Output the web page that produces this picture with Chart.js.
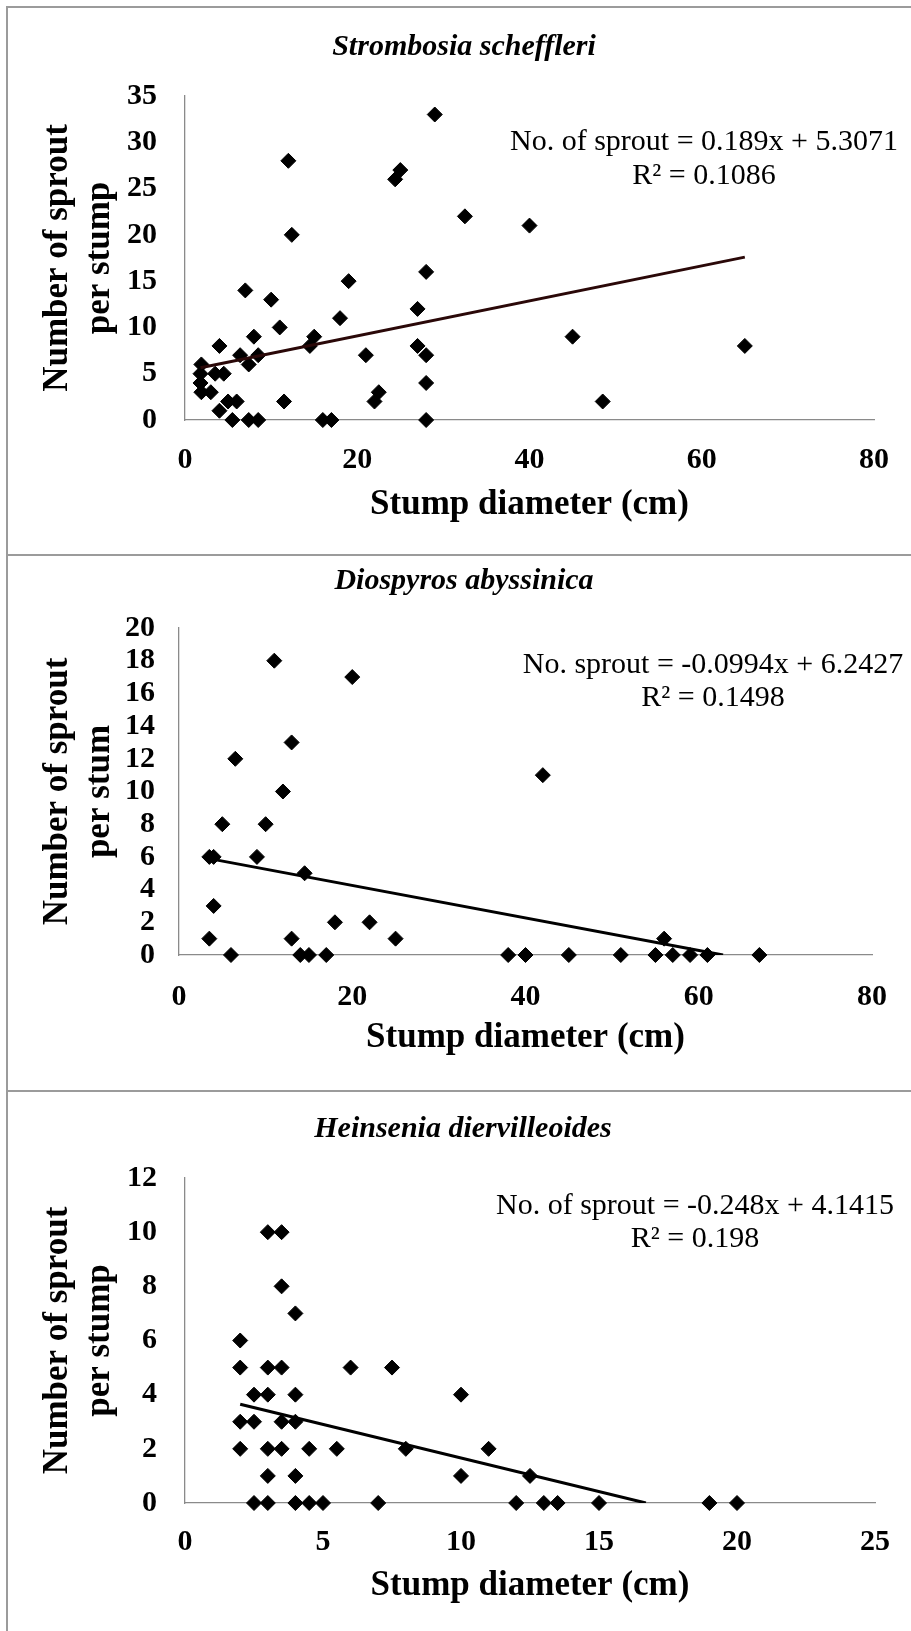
<!DOCTYPE html>
<html>
<head>
<meta charset="utf-8">
<script src="https://cdn.jsdelivr.net/npm/chart.js@4.4.1/dist/chart.umd.min.js"></script>
<style>
html,body{margin:0;padding:0;background:#fff;}
body{width:911px;height:1631px;position:relative;overflow:hidden;}
.frame{position:absolute;left:6px;top:6px;width:1000px;height:2000px;border:2px solid #9b9b9b;box-sizing:border-box;}
.sep{position:absolute;left:6px;width:1000px;height:2px;background:#9b9b9b;}
canvas{position:absolute;left:0;}
</style>
</head>
<body>
<div class="frame"></div>
<div class="sep" style="top:554px"></div>
<div class="sep" style="top:1090px"></div>
<canvas id="c1" width="911" height="555" style="top:0px"></canvas>
<canvas id="c2" width="911" height="536" style="top:555px"></canvas>
<canvas id="c3" width="911" height="540" style="top:1091px"></canvas>
<script>
// ---------- Data ----------
// Panel 1: Strombosia scheffleri
const strombosiaDiameter = [29, 12, 25, 24.4, 32.5, 40, 12.4, 28, 19, 7, 10, 27, 18, 11, 8, 15, 14.5, 4, 27, 21, 28, 6.4, 8.5, 7.4, 1.9, 1.8, 3.5, 4.5, 1.8, 1.9, 3, 5, 6, 4, 11.5, 22, 22.5, 28, 5.5, 7.4, 8.5, 16, 17, 28, 45, 48.5, 65];
const strombosiaSprouts  = [33, 28, 27, 26, 22, 21, 20, 16, 15, 14, 13, 12, 11, 10, 9, 9, 8, 8, 8, 7, 7, 7, 7, 6, 6, 5, 5, 5, 4, 3, 3, 2, 2, 1, 2, 2, 3, 4, 0, 0, 0, 0, 0, 0, 9, 2, 8];
const strombosiaTrend = { slope: 0.189, intercept: 5.3071, r2: '0.1086' };

// Panel 2: Diospyros abyssinica
const diospyrosDiameter = [11, 20, 13, 6.5, 12, 5, 10, 3.5, 4, 9, 14.5, 4, 18, 22, 3.5, 13, 25, 6, 14, 15, 17, 38, 40, 42, 45, 51, 55, 56, 57, 59, 61, 67];
const diospyrosSprouts  = [18, 17, 13, 12, 10, 8, 8, 6, 6, 6, 5, 3, 2, 2, 1, 1, 1, 0, 0, 0, 0, 0, 0, 11, 0, 0, 0, 1, 0, 0, 0, 0];
const diospyrosTrend = { slope: -0.0994, intercept: 6.2427, r2: '0.1498' };

// Panel 3: Heinsenia diervilleoides
const heinseniaDiameter = [3, 3.5, 3.5, 4, 2, 2, 3, 3.5, 6, 7.5, 2.5, 3, 4, 10, 2, 2.5, 3.5, 4, 2, 3, 3.5, 4.5, 5.5, 8, 11, 3, 4, 10, 2.5, 3, 4, 4.5, 5, 7, 12, 12.5, 13, 13.5, 15, 19, 20];
const heinseniaSprouts  = [10, 10, 8, 7, 6, 5, 5, 5, 5, 5, 4, 4, 4, 4, 3, 3, 3, 3, 2, 2, 2, 2, 2, 2, 2, 1, 1, 1, 0, 0, 0, 0, 0, 0, 0, 1, 0, 0, 0, 0, 0];
const heinseniaTrend = { slope: -0.248, intercept: 4.1415, r2: '0.198' };

// Axis ranges / ticks
const xAxis1 = { min: 0, max: 80, step: 20 };
const yAxis1 = { min: 0, max: 35, step: 5 };
const xAxis2 = { min: 0, max: 80, step: 20 };
const yAxis2 = { min: 0, max: 20, step: 2 };
const xAxis3 = { min: 0, max: 25, step: 5 };
const yAxis3 = { min: 0, max: 12, step: 2 };

// Texts
const titles = ['Strombosia scheffleri', 'Diospyros abyssinica', 'Heinsenia diervilleoides'];
const equations = [
  ['No. of sprout = 0.189x + 5.3071', 'R\u00B2 = 0.1086'],
  ['No. sprout = -0.0994x + 6.2427', 'R\u00B2 = 0.1498'],
  ['No. of sprout = -0.248x + 4.1415', 'R\u00B2 = 0.198']
];
const yTitles = [['Number of sprout', 'per stump'], ['Number of sprout', 'per stum'], ['Number of sprout', 'per stump']];
const xTitle = 'Stump diameter (cm)';

// ---------- Rendering ----------
const FAMILY = '"Liberation Serif", "Times New Roman", serif';

const panelText = {
  id: 'panelText',
  afterDraw(chart, args, o) {
    const ctx = chart.ctx;
    ctx.save();
    ctx.fillStyle = '#000';
    ctx.textAlign = 'center';
    ctx.textBaseline = 'alphabetic';
    ctx.font = 'italic bold 30px ' + FAMILY;
    ctx.fillText(o.title, o.titleX, o.titleY);
    ctx.font = '30px ' + FAMILY;
    o.eq.forEach((t, i) => ctx.fillText(t, o.eqX, o.eqY[i]));
    ctx.restore();
  }
};

function toPoints(xs, ys) { return xs.map((x, i) => ({ x: x, y: ys[i] })); }

function trendLine(xs, t) {
  const x0 = Math.min(...xs);
  let x1 = Math.max(...xs);
  if (t.slope < 0) x1 = Math.min(x1, -t.intercept / t.slope);
  return [{ x: x0, y: t.slope * x0 + t.intercept }, { x: x1, y: t.slope * x1 + t.intercept }];
}

function makePanel(id, c) {
  const H = c.height;
  new Chart(document.getElementById(id), {
    type: 'scatter',
    data: {
      datasets: [
        { data: trendLine(c.xs, c.trend), showLine: true, borderColor: c.trendColor, borderWidth: 3,
          pointRadius: 0, pointHoverRadius: 0, fill: false, order: 0 },
        { data: toPoints(c.xs, c.ys), pointStyle: 'rectRot', pointRadius: 7.5, pointHoverRadius: 7.5,
          backgroundColor: '#000', borderColor: '#000', borderWidth: 1, clip: false, order: 1 }
      ]
    },
    options: {
      responsive: false, animation: false, devicePixelRatio: 1, events: [],
      layout: { padding: { top: c.area.top, right: 911 - c.area.right, left: 0, bottom: 0 } },
      plugins: {
        legend: { display: false }, tooltip: { enabled: false },
        panelText: c.text
      },
      scales: {
        x: {
          type: 'linear', min: c.xAxis.min, max: c.xAxis.max,
          ticks: { stepSize: c.xAxis.step, padding: c.xTickPad, color: '#000', autoSkip: false, maxRotation: 0,
                   font: { family: FAMILY, size: 30, weight: 'bold' } },
          grid: { display: false, drawTicks: false },
          border: { display: true, color: '#8a8a8a', width: 1.3 },
          title: { display: true, text: xTitle, color: '#000',
                   font: { family: FAMILY, size: 35, weight: 'bold' },
                   padding: { top: 0, bottom: c.xTitlePad } },
          afterFit(s) { s.height = H - c.area.bottom; }
        },
        y: {
          type: 'linear', min: c.yAxis.min, max: c.yAxis.max,
          ticks: { stepSize: c.yAxis.step, padding: c.yTickPad, color: '#000', autoSkip: false,
                   font: { family: FAMILY, size: 30, weight: 'bold' } },
          grid: { display: false, drawTicks: false },
          border: { display: true, color: '#8a8a8a', width: 1.3 },
          title: { display: true, text: c.yTitle, color: '#000',
                   font: { family: FAMILY, size: 35, weight: 'bold' },
                   padding: { top: c.yTitlePad, bottom: 0 } },
          afterFit(s) { s.width = c.area.left; }
        }
      }
    },
    plugins: [panelText]
  });
}

makePanel('c1', {
  height: 555, area: { left: 185, right: 879, top: 96, bottom: 420 },
  xs: strombosiaDiameter, ys: strombosiaSprouts, trend: strombosiaTrend, trendColor: '#2a0808',
  xAxis: xAxis1, yAxis: yAxis1, xTickPad: 22, yTickPad: 28, xTitlePad: 29, yTitlePad: 37,
  yTitle: yTitles[0],
  text: { title: titles[0], titleX: 464, titleY: 55, eq: equations[0], eqX: 704, eqY: [150, 184] }
});
makePanel('c2', {
  height: 536, area: { left: 179, right: 879, top: 73, bottom: 400 },
  xs: diospyrosDiameter, ys: diospyrosSprouts, trend: diospyrosTrend, trendColor: '#000',
  xAxis: xAxis2, yAxis: yAxis2, xTickPad: 24, yTickPad: 24, xTitlePad: 32, yTitlePad: 37,
  yTitle: yTitles[1],
  text: { title: titles[1], titleX: 464, titleY: 34, eq: equations[1], eqX: 713, eqY: [118, 151] }
});
makePanel('c3', {
  height: 540, area: { left: 185, right: 879, top: 87, bottom: 412 },
  xs: heinseniaDiameter, ys: heinseniaSprouts, trend: heinseniaTrend, trendColor: '#000',
  xAxis: xAxis3, yAxis: yAxis3, xTickPad: 21, yTickPad: 28, xTitlePad: 24, yTitlePad: 37,
  yTitle: yTitles[2],
  text: { title: titles[2], titleX: 463, titleY: 46, eq: equations[2], eqX: 695, eqY: [123, 156] }
});
</script>
</body>
</html>
